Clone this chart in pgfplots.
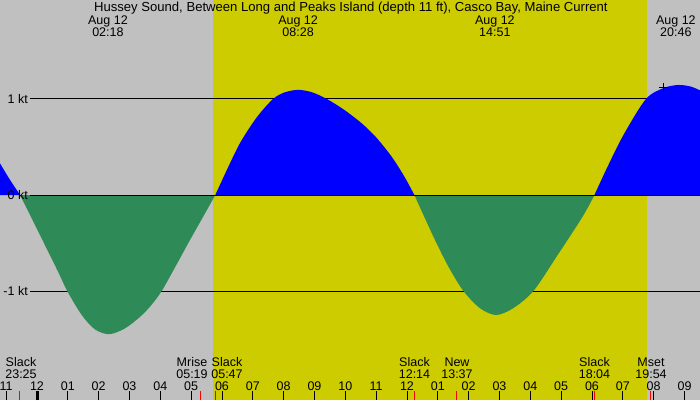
\documentclass[border=0pt]{standalone}
\usepackage{pgfplots}
\pgfplotsset{compat=1.18}
\usepackage{fontspec}
\setmainfont{Liberation Sans}

\definecolor{bggray}{RGB}{192,192,192}
\definecolor{dayyellow}{RGB}{204,204,0}
\definecolor{floodblue}{RGB}{0,0,255}
\definecolor{ebbgreen}{RGB}{46,139,87}

\begin{document}
\begin{tikzpicture}[lab/.style={font=\fontsize{12.5}{14}\selectfont, inner sep=0pt, anchor=base}]
\begin{axis}[
    width=700pt, height=400pt, scale only axis,
    xmin=-1.2, xmax=21.503,
    ymin=-2.1354, ymax=2.03125,
    axis line style={draw=none},
    axis background/.style={fill=bggray},
    axis on top,
    ytick=\empty,
    xtick={-1,0,...,21},
    xticklabels={11,12,01,02,03,04,05,06,07,08,09,10,11,12,01,02,03,04,05,06,07,08,09},
    xtick pos=bottom,
    tick align=inside,
    major tick length=9pt,
    tick style={black, line width=1pt},
    xticklabel style={anchor=base, yshift=10pt, inner sep=0pt, font=\fontsize{12.5}{14}\selectfont},
    extra x ticks={-0.583,5.317,5.783,12.233,13.617,18.067,19.9},
    extra x tick labels={},
    extra x tick style={major tick style={red, line width=1pt}},
    clip=false,
]

% daylight
\addplot[fill=dayyellow, draw=none] coordinates {(5.72,-2.1354) (5.72,2.03125) (19.77,2.03125) (19.77,-2.1354)} -- cycle;

% +-1 kt lines (under the current)
\addplot[black, line width=1pt] coordinates {(-0.227,1) (21.503,1)};
\addplot[black, line width=1pt] coordinates {(-0.227,-1) (21.503,-1)};

% current, knots vs hours after midnight Aug 12
\addplot[fill=floodblue, draw=none, smooth] coordinates {
    (-1.2,0.33) (-0.9,0.17) (-0.55,0)
} \closedcycle;
\addplot[fill=ebbgreen, draw=none, smooth] coordinates {
    (-0.55,0) (-0.1,-0.29) (0.3,-0.55) (0.7,-0.81) (0.98,-1.0) (1.45,-1.25)
    (1.88,-1.40) (2.345,-1.45) (2.85,-1.39) (3.34,-1.27) (3.7,-1.15) (4.045,-1.0)
    (4.5,-0.74) (4.96,-0.47) (5.4,-0.22) (5.783,0)
} \closedcycle;
\addplot[fill=floodblue, draw=none, smooth] coordinates {
    (5.783,0) (6.2,0.29) (6.6,0.55) (7.13,0.81) (7.655,1.0) (8.04,1.07)
    (8.475,1.095) (8.92,1.07) (9.40,1.0) (9.95,0.89) (10.53,0.747) (11.0,0.60)
    (11.5,0.40) (11.9,0.2) (12.24,0)
} \closedcycle;
\addplot[fill=ebbgreen, draw=none, smooth] coordinates {
    (12.24,0) (12.55,-0.22) (12.91,-0.47) (13.35,-0.75) (13.83,-1.0) (14.37,-1.18)
    (14.89,-1.25) (15.44,-1.18) (16.10,-1.0) (16.855,-0.64) (17.56,-0.295)
    (17.85,-0.14) (18.08,0)
} \closedcycle;
\addplot[fill=floodblue, draw=none, smooth] coordinates {
    (18.08,0) (18.48,0.278) (19.02,0.625) (19.75,1.0) (20.33,1.115) (20.8,1.146)
    (21.2,1.13) (21.503,1.09)
} \closedcycle;

\addplot[black, line width=1pt] coordinates {(-0.227,0) (21.503,0)};

% midnight tick
\addplot[black, line width=3pt] coordinates {(0,-2.1354) (0,-2.0417)};

% moon mark
\addplot[only marks, mark=+, mark size=4.5pt, black, line width=1pt] coordinates {(20.335,1.115)};

% texts
\node[lab, font=\fontsize{13.1}{15}\selectfont] at (axis cs:10.18,1.909) {Hussey Sound, Between Long and Peaks Island (depth 11 ft), Casco Bay, Maine Current};
\node[lab] at (axis cs:2.3,1.776) {Aug 12};
\node[lab] at (axis cs:2.3,1.656) {02:18};
\node[lab] at (axis cs:8.467,1.776) {Aug 12};
\node[lab] at (axis cs:8.467,1.656) {08:28};
\node[lab] at (axis cs:14.85,1.776) {Aug 12};
\node[lab] at (axis cs:14.85,1.656) {14:51};
\node[lab] at (axis cs:20.72,1.776) {Aug 12};
\node[lab] at (axis cs:20.72,1.656) {20:46};

\node[lab, anchor=base east] at (axis cs:-0.292,0.953) {1 kt};
\node[lab, anchor=base east] at (axis cs:-0.292,-0.047) {0 kt};
\node[lab, anchor=base east] at (axis cs:-0.292,-1.047) {-1 kt};

\node[lab] at (axis cs:-0.519,-1.788) {Slack};
\node[lab] at (axis cs:-0.519,-1.909) {23:25};
\node[lab] at (axis cs:5.027,-1.788) {Mrise};
\node[lab] at (axis cs:5.027,-1.909) {05:19};
\node[lab] at (axis cs:6.162,-1.788) {Slack};
\node[lab] at (axis cs:6.162,-1.909) {05:47};
\node[lab] at (axis cs:12.243,-1.788) {Slack};
\node[lab] at (axis cs:12.243,-1.909) {12:14};
\node[lab] at (axis cs:13.622,-1.788) {New};
\node[lab] at (axis cs:13.622,-1.909) {13:37};
\node[lab] at (axis cs:18.081,-1.788) {Slack};
\node[lab] at (axis cs:18.081,-1.909) {18:04};
\node[lab] at (axis cs:19.914,-1.788) {Mset};
\node[lab] at (axis cs:19.914,-1.909) {19:54};
\end{axis}
\pgfresetboundingbox
\useasboundingbox (current axis.south west) rectangle (current axis.north east);
\end{tikzpicture}
\end{document}
